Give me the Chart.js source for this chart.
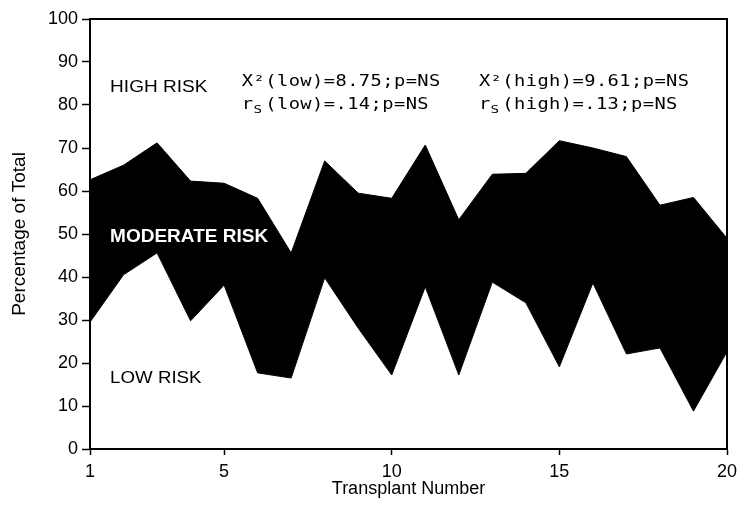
<!DOCTYPE html>
<html lang="en">
<head>
    <meta charset="UTF-8">
    <title>Risk categories by transplant number</title>
    <script src="https://cdn.jsdelivr.net/npm/chart.js"></script>
    <style>
        body { margin: 0; background: #fff; }
        #wrap { width: 744px; height: 510px; }
    </style>
</head>
<body>
    <div id="wrap"><canvas id="riskChart"></canvas></div>

    <script>
        // values (percent of total)
        const transplantNumbers = [1, 2, 3, 4, 5, 6, 7, 8, 9, 10, 11, 12, 13, 14, 15, 16, 17, 18, 19, 20];
        const lowRisk      = [29.5, 40.5, 45.6, 29.8, 38.1, 17.7, 16.5, 39.8, 28.1, 17.2, 37.7, 17.2, 38.8, 34.0, 19.1, 38.6, 22.1, 23.5, 8.8, 22.6];
        const moderateRisk = [33.1, 25.5, 25.6, 32.5, 23.7, 40.6, 29.1, 27.2, 31.4, 41.1, 33.0, 36.1, 25.1, 30.1, 52.6, 31.4, 45.9, 33.2, 49.7, 26.4];
        const xTickValues = [1, 5, 10, 15, 20];

        function points(values) {
            return transplantNumbers.map((n, i) => ({ x: n, y: values[i] }));
        }

        // draws text stretched horizontally, char by char if an advance is given
        function drawText(ctx, text, x, y, font, color, scaleX, advance) {
            ctx.save();
            ctx.font = font;
            ctx.fillStyle = color;
            ctx.textBaseline = 'alphabetic';
            ctx.translate(x, y);
            ctx.scale(scaleX, 1);
            if (advance) {
                for (let i = 0; i < text.length; i++) {
                    ctx.fillText(text[i], i * advance / scaleX, 0);
                }
            } else {
                ctx.fillText(text, 0, 0);
            }
            ctx.restore();
        }

        function drawStat(ctx, x, y, head, rest, sub) {
            const mono = '15px "DejaVu Sans Mono"';
            const adv = 11.7, sx = 1.25;
            if (sub) {
                drawText(ctx, head, x, y, mono, '#000', sx, adv);
                drawText(ctx, sub, x + adv, y + 4, '11px "DejaVu Sans Mono"', '#000', 1.3);
                drawText(ctx, rest, x + adv * 2, y, mono, '#000', sx, adv);
            } else {
                drawText(ctx, head + rest, x, y, mono, '#000', sx, adv);
            }
        }

        const frame = {
            id: 'frame',
            afterDraw(chart) {
                const { ctx, chartArea: a, scales } = chart;
                const X = v => scales.x.getPixelForValue(v);
                const Y = v => scales.y.getPixelForValue(v);

                ctx.save();
                ctx.strokeStyle = '#000';
                ctx.lineWidth = 2;
                ctx.strokeRect(a.left, a.top, a.right - a.left, a.bottom - a.top);
                ctx.restore();

                drawText(ctx, 'HIGH RISK', X(1.6), Y(83.0), '17px "Liberation Sans"', '#000', 1.12);
                drawText(ctx, 'MODERATE RISK', X(1.6), Y(48.1), 'bold 19px "Liberation Sans"', '#fff', 1.0);
                drawText(ctx, 'LOW RISK', X(1.6), Y(15.35), '17px "Liberation Sans"', '#000', 1.1);

                drawStat(ctx, X(5.53), Y(84.4), 'X²', '(low)=8.75;p=NS');
                drawStat(ctx, X(5.53), Y(79.1), 'r', '(low)=.14;p=NS', 'S');
                drawStat(ctx, X(12.6), Y(84.4), 'X²', '(high)=9.61;p=NS');
                drawStat(ctx, X(12.6), Y(79.1), 'r', '(high)=.13;p=NS', 'S');
            }
        };

        new Chart(document.getElementById('riskChart'), {
            type: 'line',
            data: {
                datasets: [
                    {
                        label: 'Low risk',
                        data: points(lowRisk),
                        borderColor: '#000',
                        borderWidth: 1,
                        backgroundColor: '#fff',
                        fill: 'origin',
                        pointRadius: 0,
                        tension: 0
                    },
                    {
                        label: 'Moderate risk',
                        data: points(moderateRisk),
                        borderColor: '#000',
                        borderWidth: 1,
                        backgroundColor: '#000',
                        fill: '-1',
                        pointRadius: 0,
                        tension: 0
                    }
                ]
            },
            options: {
                responsive: true,
                maintainAspectRatio: false,
                animation: false,
                events: [],
                layout: { padding: { top: 19, right: 17, left: 0, bottom: 0 } },
                plugins: {
                    legend: { display: false },
                    tooltip: { enabled: false }
                },
                scales: {
                    x: {
                        type: 'linear',
                        min: 1,
                        max: 20,
                        afterBuildTicks: scale => { scale.ticks = xTickValues.map(v => ({ value: v })); },
                        afterFit: scale => { scale.height = 61; },
                        ticks: {
                            color: '#000',
                            font: { family: 'Liberation Sans', size: 18 },
                            padding: 6,
                            maxRotation: 0
                        },
                        grid: { drawOnChartArea: false, drawTicks: true, tickLength: 6, tickColor: '#000', tickWidth: 1.5 },
                        border: { display: true, color: '#000', width: 2 },
                        title: {
                            display: true,
                            text: 'Transplant Number',
                            color: '#000',
                            font: { family: 'Liberation Sans', size: 18 },
                            padding: { top: 0, bottom: 10 }
                        }
                    },
                    y: {
                        stacked: true,
                        min: 0,
                        max: 100,
                        afterFit: scale => { scale.width = 90; },
                        ticks: {
                            stepSize: 10,
                            color: '#000',
                            font: { family: 'Liberation Sans', size: 18 },
                            padding: 4
                        },
                        grid: { drawOnChartArea: false, drawTicks: true, tickLength: 8, tickColor: '#000', tickWidth: 1.5 },
                        border: { display: true, color: '#000', width: 2 },
                        title: {
                            display: true,
                            text: 'Percentage of Total',
                            color: '#000',
                            font: { family: 'Liberation Sans', size: 19 },
                            padding: { top: 8, bottom: 0 }
                        }
                    }
                }
            },
            plugins: [frame]
        });
    </script>
</body>
</html>
